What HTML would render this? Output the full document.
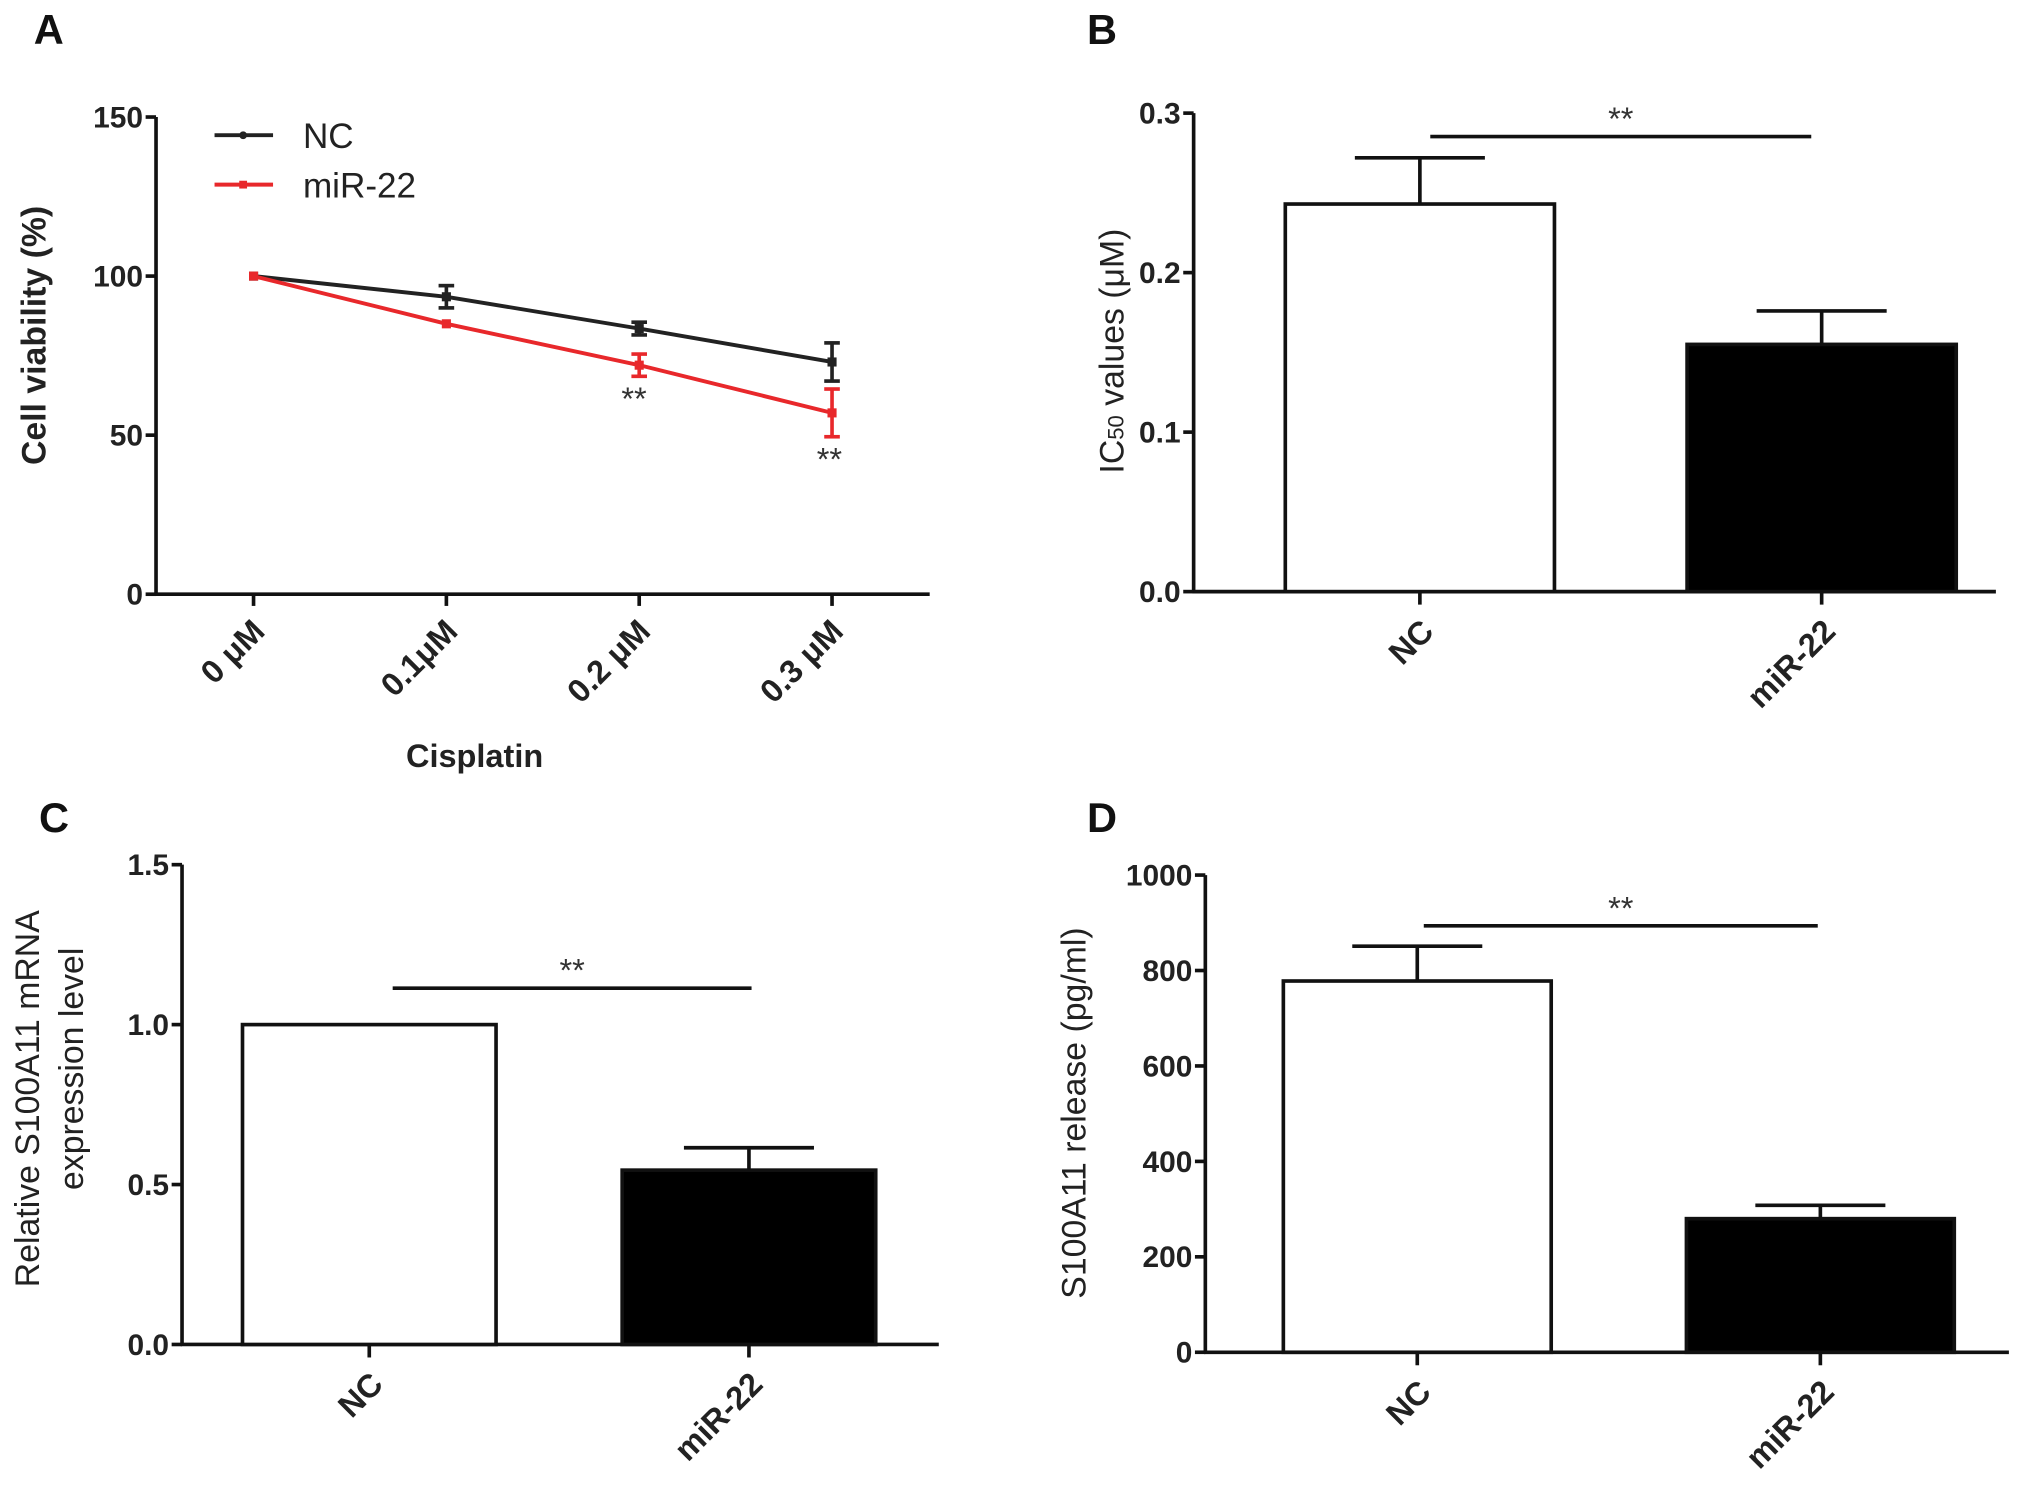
<!DOCTYPE html>
<html><head><meta charset="utf-8"><style>
html,body{margin:0;padding:0;background:#fff;}
svg{display:block;}
text{font-family:"Liberation Sans",Arial,sans-serif;}
</style></head><body>
<svg id="fig" width="2031" height="1494" viewBox="0 0 1562 1149" preserveAspectRatio="none" xmlns="http://www.w3.org/2000/svg"></svg>
<script>
// Panel A data
const aCats = ["0 μM","0.1μM","0.2 μM","0.3 μM"];
const aNC = [100, 93.5, 83.5, 73];
const aNCerr = [0, 3.5, 2, 6];
const aMiR = [100, 85, 72, 57];
const aMiRerr = [0, 0, 3.5, 7.5];
const aTicks = [0, 50, 100, 150];
// Panel B data
const bCats = ["NC","miR-22"];
const bVals = [0.243, 0.155];
const bErr = [0.029, 0.021];
const bTicks = ["0.0","0.1","0.2","0.3"];
// Panel C data
const cCats = ["NC","miR-22"];
const cVals = [1.0, 0.545];
const cErr = [0, 0.07];
const cTicks = ["0.0","0.5","1.0","1.5"];
// Panel D data
const dCats = ["NC","miR-22"];
const dVals = [778, 280];
const dErr = [73, 28];
const dTicks = ["0","200","400","600","800","1000"];

const NS="http://www.w3.org/2000/svg";
const svg=document.getElementById('fig');
function el(tag,attrs,parent,txt){const e=document.createElementNS(NS,tag);for(const k in attrs)e.setAttribute(k,attrs[k]);if(txt!==undefined)e.textContent=txt;(parent||svg).appendChild(e);return e;}
function line(x1,y1,x2,y2,c,w,p){return el('line',{x1,y1,x2,y2,stroke:c||'#111','stroke-width':w||2.5},p);}

function axes(g,x0,x1,yTop,yBot,vmax,ticks){
  const y=v=>yBot-(v/vmax)*(yBot-yTop);
  const ya=line(x0,yTop,x0,yBot,'#111',2.8,g);
  
  
  const xa=line(x0-1,yBot,x1,yBot,'#111',2.8,g);
  
  
  ticks.forEach(t=>{const v=parseFloat(t);
    line(x0-8,y(v),x0,y(v),'#111',2.8,g);
    const tl=el('text',{x:x0-10,y:y(v)+8,'text-anchor':'end','font-size':23,'font-weight':'bold',fill:'#222'},g,t);
    
    
  });
  return y;
}
function catLabel(g,x,yy,t){
  const e=el('text',{x:x,y:yy,'text-anchor':'end','font-size':25,'font-weight':'bold',fill:'#222',transform:`rotate(-45 ${x} ${yy})`},g,t);
  
  
}
function letter(g,x,y,t){const e=el('text',{x,y,'font-size':32,'font-weight':'bold',fill:'#111'},g,t);
  
  }
function ytitle(g,x,y,t,fs,bold){const e=el('text',{x,y,'text-anchor':'middle','font-size':fs||25,'font-weight':bold?'bold':'normal',fill:'#222',transform:`rotate(-90 ${x} ${y})`},g,t);
  
  return e;}

// ---------- Panel A ----------
const gA=el('g',{});


letter(gA,26,34,'A');
const yA=axes(gA,120,715,90,457,150,aTicks.map(String));
const xA=i=>195+i*148.3;
aCats.forEach((c,i)=>{line(xA(i),457,xA(i),466,'#111',2.8,gA);catLabel(gA,xA(i)+10,487,c);});
const ct=el('text',{x:365,y:590,'text-anchor':'middle','font-size':25,'font-weight':'bold',fill:'#222'},gA,'Cisplatin');


ytitle(gA,35,258,'Cell viability (%)',26,true);
function series(vals,errs,color,name){
  const pts=vals.map((v,i)=>`${xA(i)},${yA(v)}`).join(' ');
  const pl=el('polyline',{points:pts,fill:'none',stroke:color,'stroke-width':3},gA);
  
  
  vals.forEach((v,i)=>{
    if(errs[i]>0){line(xA(i),yA(v+errs[i]),xA(i),yA(v-errs[i]),color,2.8,gA);
      line(xA(i)-6,yA(v+errs[i]),xA(i)+6,yA(v+errs[i]),color,2.8,gA);
      line(xA(i)-6,yA(v-errs[i]),xA(i)+6,yA(v-errs[i]),color,2.8,gA);}
    const m=el('rect',{x:xA(i)-3.5,y:yA(v)-3.5,width:7,height:7,fill:color},gA);
    
    
  });
}
series(aNC,aNCerr,'#222','nc');
series(aMiR,aMiRerr,'#e8282b','mir-22');
const s1=el('text',{x:xA(2)-4,y:yA(aMiR[2]-aMiRerr[2])+26,'text-anchor':'middle','font-size':25,fill:'#333'},gA,'**');


const s2=el('text',{x:xA(3)-2,y:yA(aMiR[3]-aMiRerr[3])+26,'text-anchor':'middle','font-size':25,fill:'#333'},gA,'**');


// legend
const lg=el('g',{},gA);


line(165,104,210,104,'#222',3,lg);el('circle',{cx:187,cy:104,r:3,fill:'#222'},lg);
const l1=el('text',{x:233,y:114,'font-size':27,fill:'#222'},lg,'NC');


line(165,142,210,142,'#e8282b',3,lg);el('rect',{x:184,y:139,width:6,height:6,fill:'#e8282b'},lg);
const l2=el('text',{x:233,y:152,'font-size':27,fill:'#222'},lg,'miR-22');



// ---------- bar panel helper ----------
function barPanel(name,opt){
  const g=el('g',{});
  
  
  letter(g,opt.lx,opt.ly,opt.letter);
  const y=axes(g,opt.x0,opt.x1,opt.yTop,opt.yBot,opt.vmax,opt.ticks);
  opt.vals.forEach((v,i)=>{
    const cx=opt.centers[i];const w=opt.bw;
    if(opt.err[i]>0){line(cx,y(v),cx,y(v+opt.err[i]),'#111',2.8,g);
      line(cx-50,y(v+opt.err[i]),cx+50,y(v+opt.err[i]),'#111',2.8,g);}
    const r=el('rect',{x:cx-w/2,y:y(v),width:w,height:opt.yBot-y(v),fill:i==0?'#fff':'#000',stroke:'#111','stroke-width':2.8},g);
    
    
    line(cx,opt.yBot,cx,opt.yBot+10,'#111',2.8,g);
    catLabel(g,cx+12,opt.yBot+32,opt.cats[i]);
  });
  const sl=line(opt.sig[0],opt.sig[2],opt.sig[1],opt.sig[2],'#111',2.8,g);
  
  
  const st=el('text',{x:(opt.sig[0]+opt.sig[1])/2,y:opt.sig[2]-5,'text-anchor':'middle','font-size':25,fill:'#333'},g,'**');
  
  
  return g;
}
// Panel B
const gB=barPanel('panel-b-bar-chart',{letter:'B',lx:836,ly:34,x0:918,x1:1535,yTop:87,yBot:455,vmax:0.3,ticks:bTicks,
  vals:bVals,err:bErr,cats:bCats,centers:[1092,1401],bw:207,sig:[1100,1393,105]});
const tB=el('text',{x:864,y:270,'text-anchor':'middle','font-size':26,fill:'#222',transform:'rotate(-90 864 270)'},gB);


el('tspan',{},tB,'IC');el('tspan',{'font-size':17},tB,'50');el('tspan',{},tB,'  values (μM)');
// Panel C
const gC=barPanel('panel-c-bar-chart',{letter:'C',lx:30,ly:640,x0:140,x1:722,yTop:665,yBot:1034,vmax:1.5,ticks:cTicks,
  vals:cVals,err:cErr,cats:cCats,centers:[284,576],bw:195,sig:[302,578,760]});
ytitle(gC,30,845,'Relative S100A11 mRNA',26);
ytitle(gC,64,822,'expression level',26);
// Panel D
const gD=barPanel('panel-d-bar-chart',{letter:'D',lx:836,ly:640,x0:927,x1:1545,yTop:673,yBot:1040,vmax:1000,ticks:dTicks,
  vals:dVals,err:dErr,cats:dCats,centers:[1090,1400],bw:206,sig:[1095,1398,712]});
ytitle(gD,835,856,'S100A11 release (pg/ml)',26);
</script>
</body></html>
